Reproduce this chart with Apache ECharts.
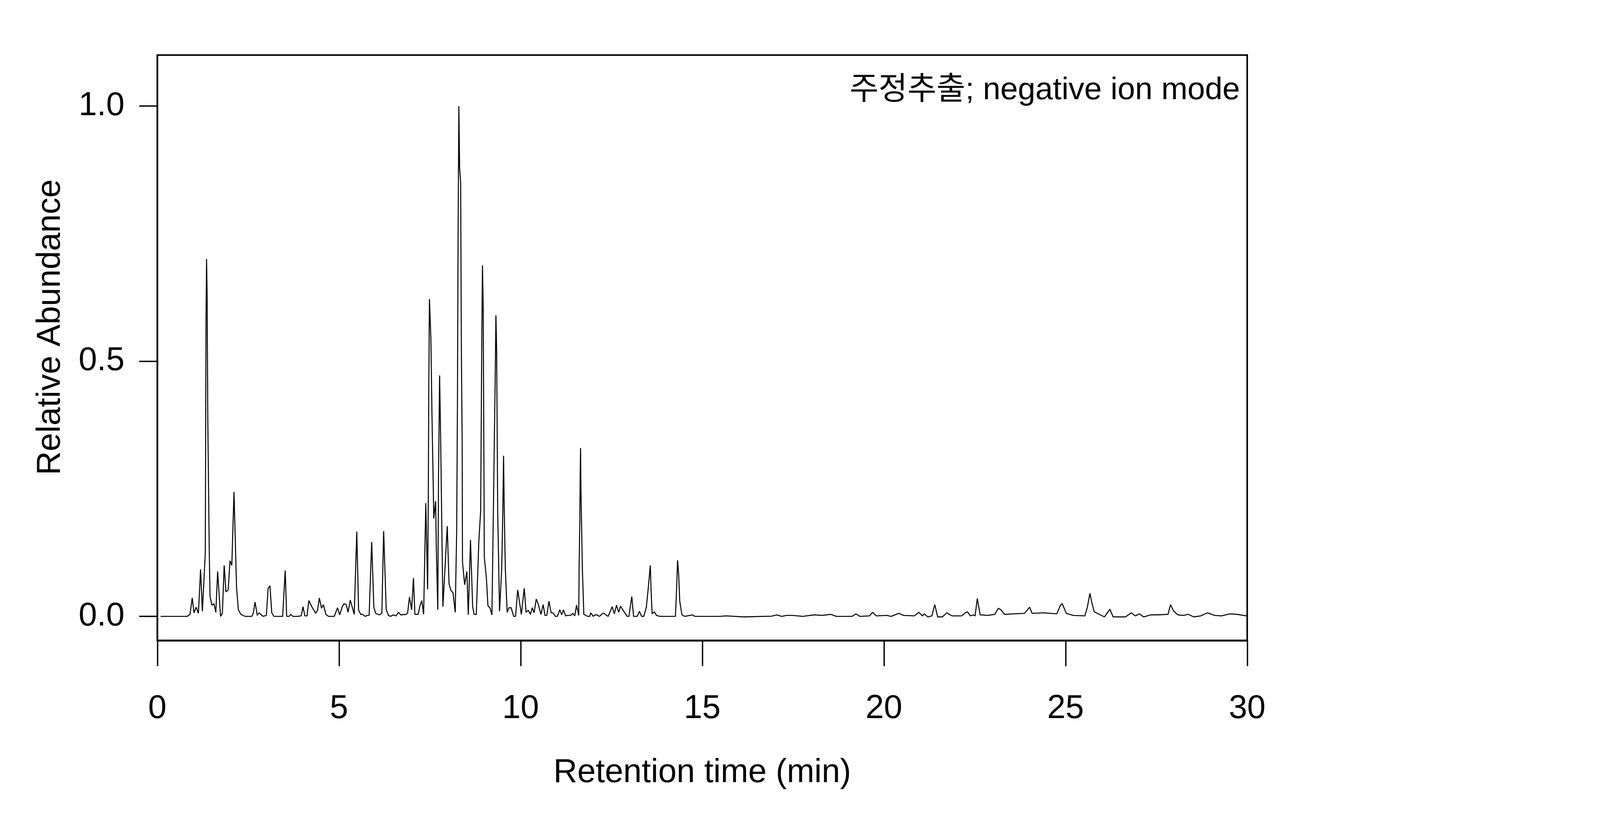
<!DOCTYPE html>
<html>
<head>
<meta charset="utf-8">
<title>Chromatogram</title>
<script src="https://cdn.jsdelivr.net/npm/echarts/dist/echarts.min.js"></script>
<style>
  html, body { margin: 0; padding: 0; background: #fff; width: 100%; height: 100%; overflow: hidden; }
  #chart { width: 100%; height: 100%; }
</style>
</head>
<body>
<div id="chart"></div>
<script>
// retention time (min) and relative abundance
var retentionTime = [
  0.09, 0.82, 0.90, 0.96, 1.01, 1.07, 1.13, 1.19, 1.24, 1.32, 1.33, 1.34, 1.355, 1.37, 1.38, 1.39,
  1.43, 1.45, 1.50, 1.56, 1.61, 1.66, 1.74, 1.79, 1.84, 1.89, 1.95, 2.00, 2.05, 2.11, 2.18, 2.23,
  2.30, 2.42, 2.60, 2.64, 2.69, 2.75, 2.80, 2.91, 3.00, 3.05, 3.10, 3.15, 3.21, 3.45, 3.52, 3.56,
  3.63, 3.67, 3.73, 3.85, 3.96, 4.01, 4.06, 4.12, 4.17, 4.26, 4.36, 4.41, 4.46, 4.52, 4.57, 4.64,
  4.71, 4.87, 4.96, 5.02, 5.09, 5.14, 5.20, 5.25, 5.31, 5.37, 5.42, 5.49, 5.54, 5.60, 5.65, 5.72,
  5.78, 5.83, 5.90, 5.96, 6.01, 6.11, 6.18, 6.23, 6.30, 6.36, 6.42, 6.49, 6.57, 6.64, 6.70, 6.85,
  6.89, 6.94, 7.00, 7.05, 7.09, 7.18, 7.23, 7.28, 7.33, 7.39, 7.44, 7.46, 7.47, 7.49, 7.53, 7.56,
  7.61, 7.66, 7.68, 7.72, 7.74, 7.77, 7.80, 7.83, 7.86, 7.92, 7.98, 8.03, 8.08, 8.14, 8.20, 8.24,
  8.26, 8.28, 8.30, 8.32, 8.35, 8.36, 8.37, 8.39, 8.40, 8.46, 8.52, 8.56, 8.62, 8.68, 8.72, 8.78,
  8.85, 8.90, 8.93, 8.95, 8.97, 8.99, 9.00, 9.06, 9.10, 9.16, 9.21, 9.24, 9.27, 9.30, 9.32, 9.34,
  9.37, 9.42, 9.48, 9.51, 9.53, 9.55, 9.58, 9.63, 9.68, 9.74, 9.81, 9.86, 9.92, 10.02, 10.10, 10.15,
  10.21, 10.27, 10.32, 10.37, 10.43, 10.48, 10.56, 10.62, 10.67, 10.72, 10.78, 10.84, 10.89, 10.96, 11.01, 11.08,
  11.13, 11.18, 11.24, 11.29, 11.38, 11.44, 11.49, 11.54, 11.60, 11.61, 11.63, 11.64, 11.65, 11.66, 11.67, 11.69,
  11.70, 11.74, 11.85, 11.90, 11.93, 12.00, 12.05, 12.10, 12.17, 12.26, 12.29, 12.41, 12.45, 12.52, 12.58, 12.64,
  12.70, 12.75, 12.82, 12.88, 12.93, 12.98, 13.06, 13.11, 13.21, 13.27, 13.33, 13.39, 13.46, 13.51, 13.57, 13.59,
  13.62, 13.68, 13.74, 13.83, 14.26, 14.28, 14.30, 14.32, 14.35, 14.38, 14.44, 14.52, 14.73, 14.80, 15.03, 15.47,
  15.66, 16.14, 16.91, 17.05, 17.19, 17.32, 17.47, 17.77, 18.08, 18.30, 18.54, 18.69, 19.12, 19.23, 19.34, 19.60,
  19.69, 19.79, 20.08, 20.20, 20.41, 20.54, 20.84, 20.96, 21.06, 21.11, 21.21, 21.32, 21.40, 21.48, 21.61, 21.73,
  21.88, 22.14, 22.24, 22.30, 22.38, 22.46, 22.51, 22.57, 22.65, 22.86, 23.05, 23.15, 23.22, 23.32, 23.58, 23.87,
  24.01, 24.08, 24.40, 24.76, 24.86, 24.91, 25.02, 25.21, 25.53, 25.60, 25.67, 25.72, 25.79, 25.93, 26.07, 26.22,
  26.31, 26.65, 26.81, 26.92, 27.03, 27.15, 27.34, 27.53, 27.82, 27.89, 27.97, 28.09, 28.24, 28.38, 28.53, 28.72,
  28.91, 29.10, 29.29, 29.53, 29.72, 29.98
];
var abundance = [
  0, 0, 0.004, 0.036, 0.007, 0.018, 0.006, 0.092, 0.010, 0.124, 0.35, 0.58, 0.70, 0.634, 0.50, 0.38,
  0.124, 0.040, 0.022, 0.025, 0.008, 0.088, 0, 0.006, 0.10, 0.048, 0.052, 0.109, 0.10, 0.244, 0.058, 0.013,
  0.004, 0, 0, 0.006, 0.028, 0.002, 0.007, 0, 0.002, 0.055, 0.06, 0.007, 0, 0, 0.09, 0,
  0, 0.004, 0, 0, 0.001, 0.019, 0.001, 0.001, 0.031, 0.018, 0.006, 0.012, 0.036, 0.016, 0.023, 0.004,
  0, 0, 0.017, 0.003, 0.019, 0.025, 0.023, 0.008, 0.032, 0.017, 0.004, 0.166, 0.012, 0.004, 0.004, 0,
  0.002, 0.002, 0.146, 0.018, 0.006, 0.003, 0.006, 0.167, 0.014, 0.002, 0, 0.003, 0.001, 0.008, 0.003, 0.004,
  0.007, 0.038, 0.013, 0.075, 0.004, 0.004, 0.021, 0.031, 0.004, 0.222, 0.053, 0.244, 0.43, 0.622, 0.544, 0.394,
  0.192, 0.226, 0.132, 0.013, 0.274, 0.472, 0.342, 0.18, 0.019, 0.097, 0.177, 0.064, 0.051, 0.046, 0.008, 0.169,
  0.409, 0.761, 1.0, 0.88, 0.85, 0.67, 0.514, 0.349, 0.106, 0.062, 0.088, 0.003, 0.15, 0.019, 0.004, 0.004,
  0.147, 0.207, 0.529, 0.688, 0.604, 0.304, 0.117, 0.073, 0.021, 0.016, 0.003, 0.154, 0.312, 0.465, 0.59, 0.52,
  0.20, 0.010, 0.094, 0.207, 0.315, 0.207, 0.091, 0.008, 0.017, 0.017, 0, 0, 0.052, 0.004, 0.055, 0.008,
  0.012, 0.004, 0.017, 0.007, 0.034, 0.025, 0.004, 0.023, 0.002, 0.002, 0.030, 0.007, 0.007, 0, 0, 0.013,
  0.003, 0.013, 0.001, 0.002, 0.002, 0.006, 0.001, 0.022, 0.002, 0.096, 0.188, 0.281, 0.330, 0.251, 0.212, 0.132,
  0.092, 0.004, 0, 0, 0.007, 0, 0.003, 0.003, 0, 0.006, 0.006, 0, 0.007, 0.019, 0.005, 0.022,
  0.008, 0.020, 0.012, 0.006, 0, 0, 0.039, 0, 0, 0.010, 0, 0, 0.018, 0.053, 0.100, 0.053,
  0.005, 0.009, 0.002, 0, 0, 0.030, 0.066, 0.110, 0.083, 0.030, 0.003, 0, 0.003, 0, 0, 0,
  0.001, -0.001, 0.0005, 0.003, 0, 0.002, 0.002, 0, 0.003, 0.002, 0.004, 0, 0, 0.005, 0, 0.001,
  0.008, 0.001, 0.002, 0, 0.006, 0.002, 0.001, 0.008, 0.001, 0.005, -0.001, 0.001, 0.023, -0.001, -0.001, 0.007,
  0.001, 0.001, 0.007, 0.009, 0.001, 0.003, 0.001, 0.035, 0.003, 0.002, 0.004, 0.016, 0.013, 0.004, 0.005, 0.006,
  0.018, 0.006, 0.007, 0.005, 0.022, 0.025, 0.006, 0.002, 0.001, 0.018, 0.045, 0.028, 0.009, 0.004, -0.001, 0.014,
  -0.001, -0.001, 0.007, 0.001, 0.005, -0.001, 0.003, 0.003, 0.004, 0.023, 0.011, 0.003, 0.002, 0.004, -0.001, 0.001,
  0.007, 0.002, 0.001, 0.005, 0.004, 0.001
];
var xTicks = [0, 5, 10, 15, 20, 25, 30];
var yTicks = [0, 0.5, 1.0];

var fontMain = "'Liberation Sans', Arial, 'Noto Sans CJK KR', sans-serif";

var chart = echarts.init(document.getElementById("chart"));

// layout was measured on a 6000 x 2100 canvas; scale to whatever we got
var W = chart.getWidth(), H = chart.getHeight();
var sx = W / 6000, sy = H / 2100, sf = Math.min(sx, sy);
var fs = 124 * sf;

var points = retentionTime.map(function (t, i) {
  return [t, abundance[i]];
});

chart.setOption({
  animation: false,
  backgroundColor: "#ffffff",
  grid: {
    left: 590 * sx,
    right: 1323 * sx,
    top: 141 * sy,
    bottom: 460 * sy,
    show: true,
    borderColor: "#000",
    borderWidth: 6 * sf
  },
  xAxis: {
    type: "value",
    min: xTicks[0],
    max: xTicks[xTicks.length - 1],
    interval: 5,
    name: "Retention time (min)",
    nameLocation: "middle",
    nameGap: 337 * sy - 0.47 * fs,
    nameTextStyle: { color: "#000", fontSize: fs, fontFamily: fontMain },
    axisLine: { show: true, onZero: false, lineStyle: { color: "#000", width: 7 * sf } },
    axisTick: { show: true, inside: false, length: 66 * sy, lineStyle: { color: "#000", width: 5 * sf } },
    axisLabel: { color: "#000", fontSize: fs, fontFamily: fontMain, margin: 170 * sy - 0.43 * fs },
    splitLine: { show: false }
  },
  yAxis: {
    type: "value",
    min: -0.047,
    max: 1.1,
    axisLine: { show: true, onZero: false, lineStyle: { color: "#000", width: 6 * sf } },
    axisTick: {
      show: true,
      inside: false,
      length: 68 * sx,
      customValues: yTicks,
      lineStyle: { color: "#000", width: 5 * sf }
    },
    axisLabel: {
      color: "#000",
      fontSize: fs,
      fontFamily: fontMain,
      margin: 123 * sx,
      customValues: yTicks,
      formatter: function (v) { return v.toFixed(1); }
    },
    splitLine: { show: false }
  },
  graphic: [
    {
      type: "text",
      x: 190 * sx,
      y: 838 * sy,
      rotation: Math.PI / 2,
      style: {
        text: "Relative Abundance",
        fill: "#000",
        font: fs + "px " + fontMain,
        textAlign: "center",
        textVerticalAlign: "middle"
      }
    },
    {
      type: "text",
      x: 4650 * sx,
      y: 232 * sy,
      style: {
        text: "주정추출; negative ion mode",
        fill: "#000",
        font: (118 * sf) + "px " + fontMain,
        textAlign: "right",
        textVerticalAlign: "middle"
      }
    }
  ],
  series: [
    {
      type: "line",
      data: points,
      showSymbol: false,
      symbol: "none",
      lineStyle: { color: "#000", width: 3.8 * sf },
      z: 3
    }
  ]
});
</script>
</body>
</html>
